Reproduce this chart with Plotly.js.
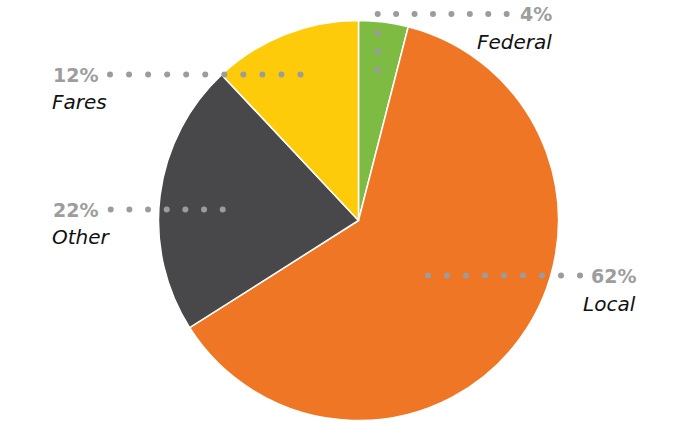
<!DOCTYPE html>
<html>
<head>
<meta charset="utf-8">
<script src="https://cdn.plot.ly/plotly-3.0.1.min.js"></script>
<style>html,body{margin:0;padding:0;background:#fff;}#chart{width:677px;height:434px;}</style>
</head>
<body>
<div id="chart"></div>
<script>
// ---- data ----
var categories = ['Federal', 'Local', 'Other', 'Fares'];
var shares = [4, 62, 22, 12];
var sliceColors = ['#7dbb42', '#ee7624', '#48484b', '#fecb0a'];

// ---- layout geometry (pixels, top-left origin) ----
var W = 677, H = 434;
var cx = 358.5, cy = 220.5, R = 200;
// leader dot runs: [x0, y0, x1, y1, count]
var leaders = {
  Federal: [[377.7, 14, 506.7, 14, 8], [377.7, 33, 377.7, 70, 3]],
  Local:   [[428, 275.5, 580, 275.5, 9]],
  Other:   [[110.7, 209.5, 222.7, 209.5, 7]],
  Fares:   [[110, 74.5, 300.5, 74.5, 11]]
};
// label anchors: [pctX, pctY, pctAnchor, nameX, nameY, nameAnchor]
var labelPos = {
  Federal: [554, 14, 'right', 554, 42, 'right'],
  Local:   [638, 275.5, 'right', 638, 304, 'right'],
  Other:   [51, 209.5, 'left', 50, 237, 'left'],
  Fares:   [51, 74.5, 'left', 50, 102, 'left']
};

function px(x) { return x / W; }
function py(y) { return 1 - y / H; }

var shapes = [];
var annotations = [];
categories.forEach(function (c, i) {
  (leaders[c] || []).forEach(function (seg) {
    var n = seg[4];
    for (var k = 0; k < n; k++) {
      var t = n > 1 ? k / (n - 1) : 0;
      var x = seg[0] + (seg[2] - seg[0]) * t;
      var y = seg[1] + (seg[3] - seg[1]) * t;
      shapes.push({
        type: 'circle', layer: 'above',
        xref: 'paper', yref: 'paper',
        xsizemode: 'pixel', ysizemode: 'pixel',
        xanchor: px(x), yanchor: py(y),
        x0: -3, x1: 3, y0: -3, y1: 3,
        fillcolor: '#9c9c9c', line: { width: 0 }
      });
    }
  });
  var lp = labelPos[c];
  annotations.push({
    xref: 'paper', yref: 'paper', x: px(lp[0]), y: py(lp[1]),
    xanchor: lp[2], yanchor: 'middle', showarrow: false,
    text: '<b>' + shares[i] + '%</b>',
    font: { family: 'DejaVu Sans, sans-serif', size: 19, color: '#9d9d9d' }
  });
  annotations.push({
    xref: 'paper', yref: 'paper', x: px(lp[3]), y: py(lp[4]),
    xanchor: lp[5], yanchor: 'middle', showarrow: false,
    text: '<i>' + c + '</i>',
    font: { family: 'DejaVu Sans, sans-serif', size: 20, color: '#111111' }
  });
});

var trace = {
  type: 'pie',
  labels: categories,
  values: shares,
  sort: false,
  direction: 'clockwise',
  rotation: 0,
  textinfo: 'none',
  hoverinfo: 'none',
  showlegend: false,
  marker: { colors: sliceColors, line: { color: '#ffffff', width: 1.5 } },
  domain: {
    x: [(cx - R) / W, (cx + R) / W],
    y: [(H - cy - R) / H, (H - cy + R) / H]
  }
};

var layout = {
  width: W, height: H,
  margin: { l: 0, r: 0, t: 0, b: 0 },
  paper_bgcolor: '#ffffff',
  plot_bgcolor: '#ffffff',
  showlegend: false,
  shapes: shapes,
  annotations: annotations
};

Plotly.newPlot('chart', [trace], layout, { staticPlot: true, displayModeBar: false });
</script>
</body>
</html>
